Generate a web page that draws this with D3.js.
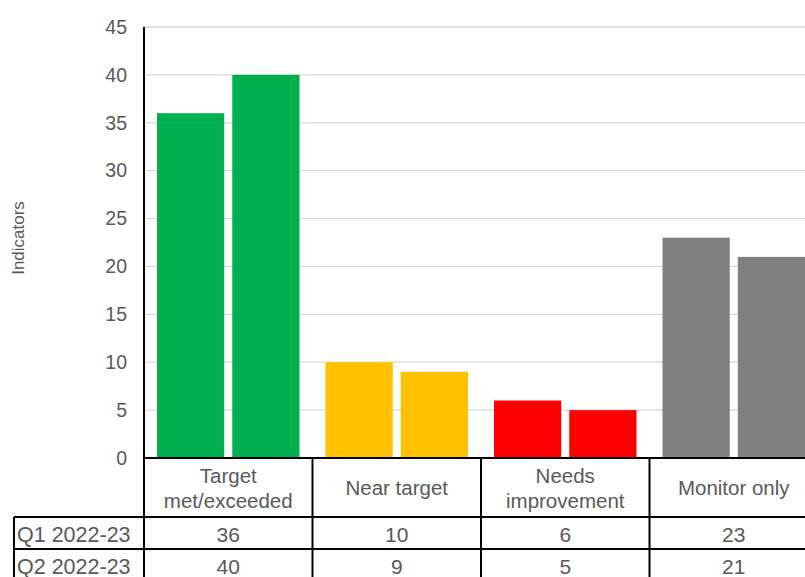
<!DOCTYPE html>
<html>
<head>
<meta charset="utf-8">
<script src="https://cdn.jsdelivr.net/npm/d3@7"></script>
<style>
  body { margin: 0; background: #fff; }
  svg { display: block; font-family: "Liberation Sans", Arial, sans-serif; }
</style>
</head>
<body>
<svg id="chart" width="805" height="577"></svg>
<script>
// Indicator status by quarter -- column chart with data table

var categories = ["Target\nmet/exceeded", "Near target", "Needs\nimprovement", "Monitor only"];
var series = ["Q1 2022-23", "Q2 2022-23"];
var q1Values = [36, 10, 6, 23];
var q2Values = [40, 9, 5, 21];
var barColors = ["#00B050", "#FFC000", "#FF0000", "#808080"];
var yTicks = [0, 5, 10, 15, 20, 25, 30, 35, 40, 45];

var textColor = "#595959";
var plotLeft = 144, plotRight = 818; // right edge runs past the window
var plotTop = 27, plotBottom = 458;
var headerBottom = 517, rowH = 32;

var svg = d3.select("#chart");

var x0 = d3.scaleBand().domain(categories).range([plotLeft, plotRight]);
var x1 = d3.scaleBand().domain(series).range([13, x0.bandwidth() - 13]).paddingInner(0.107);
var y = d3.scaleLinear().domain([0, 45]).range([plotBottom, plotTop]);

var valuesBySeries = [q1Values, q2Values];

// gridlines
svg.append("g")
  .selectAll("line")
  .data(yTicks.filter(function (t) { return t > 0; }))
  .join("line")
  .attr("x1", plotLeft).attr("x2", plotRight)
  .attr("y1", function (d) { return y(d); })
  .attr("y2", function (d) { return y(d); })
  .attr("stroke", "#d9d9d9")
  .attr("stroke-width", 1.3);

// bars
var groups = svg.append("g")
  .selectAll("g")
  .data(categories)
  .join("g")
  .attr("transform", function (c) { return "translate(" + x0(c) + ",0)"; });

groups.selectAll("rect")
  .data(function (c, i) {
    return series.map(function (s, j) {
      return { series: s, value: valuesBySeries[j][i], color: barColors[i] };
    });
  })
  .join("rect")
  .attr("x", function (d) { return x1(d.series); })
  .attr("width", x1.bandwidth())
  .attr("y", function (d) { return y(d.value); })
  .attr("height", function (d) { return y(0) - y(d.value); })
  .attr("fill", function (d) { return d.color; });

// y axis
var yAxis = svg.append("g")
  .attr("transform", "translate(" + plotLeft + ",0)")
  .call(d3.axisLeft(y).tickValues(yTicks).tickSize(0).tickPadding(17));
yAxis.select(".domain").remove();
yAxis.selectAll("text")
  .attr("fill", textColor)
  .style("font-size", "19.5px")
  .style("font-family", "'Liberation Sans', Arial, sans-serif");

svg.append("line")
  .attr("x1", plotLeft).attr("x2", plotLeft)
  .attr("y1", plotTop).attr("y2", 577)
  .attr("stroke", "#000").attr("stroke-width", 2);

svg.append("text")
  .attr("transform", "translate(23.5,238) rotate(-90)")
  .attr("text-anchor", "middle")
  .attr("fill", textColor)
  .style("font-size", "17px")
  .text("Indicators");

// data table
var table = svg.append("g");

// horizontal rules
table.append("line")
  .attr("x1", plotLeft).attr("x2", plotRight)
  .attr("y1", plotBottom).attr("y2", plotBottom)
  .attr("stroke", "#000").attr("stroke-width", 2);
[headerBottom, headerBottom + rowH].forEach(function (yy) {
  table.append("line")
    .attr("x1", 14).attr("x2", plotRight)
    .attr("y1", yy).attr("y2", yy)
    .attr("stroke", "#000").attr("stroke-width", 2);
});

// vertical rules
table.append("line")
  .attr("x1", 14).attr("x2", 14)
  .attr("y1", headerBottom).attr("y2", 577)
  .attr("stroke", "#000").attr("stroke-width", 2);
categories.forEach(function (c) {
  var xx = x0(c) + x0.bandwidth();
  table.append("line")
    .attr("x1", xx).attr("x2", xx)
    .attr("y1", plotBottom).attr("y2", 577)
    .attr("stroke", "#000").attr("stroke-width", 2);
});

// header labels
categories.forEach(function (c) {
  var lines = c.split("\n");
  var cx = x0(c) + x0.bandwidth() / 2;
  var mid = (plotBottom + headerBottom) / 2;
  var lh = 25;
  lines.forEach(function (ln, k) {
    table.append("text")
      .attr("x", cx)
      .attr("y", mid + (k - (lines.length - 1) / 2) * lh + 7.5)
      .attr("text-anchor", "middle")
      .attr("fill", textColor)
      .style("font-size", "20.5px")
      .text(ln);
  });
});

// series rows
series.forEach(function (s, j) {
  var top = headerBottom + j * rowH;
  table.append("text")
    .attr("x", 17)
    .attr("y", top + 24.5)
    .attr("fill", textColor)
    .style("font-size", "21.5px")
    .text(s);
  categories.forEach(function (c, i) {
    table.append("text")
      .attr("x", x0(c) + x0.bandwidth() / 2)
      .attr("y", top + 24.5)
      .attr("text-anchor", "middle")
      .attr("fill", textColor)
      .style("font-size", "21px")
      .text(valuesBySeries[j][i]);
  });
});
</script>
</body>
</html>
